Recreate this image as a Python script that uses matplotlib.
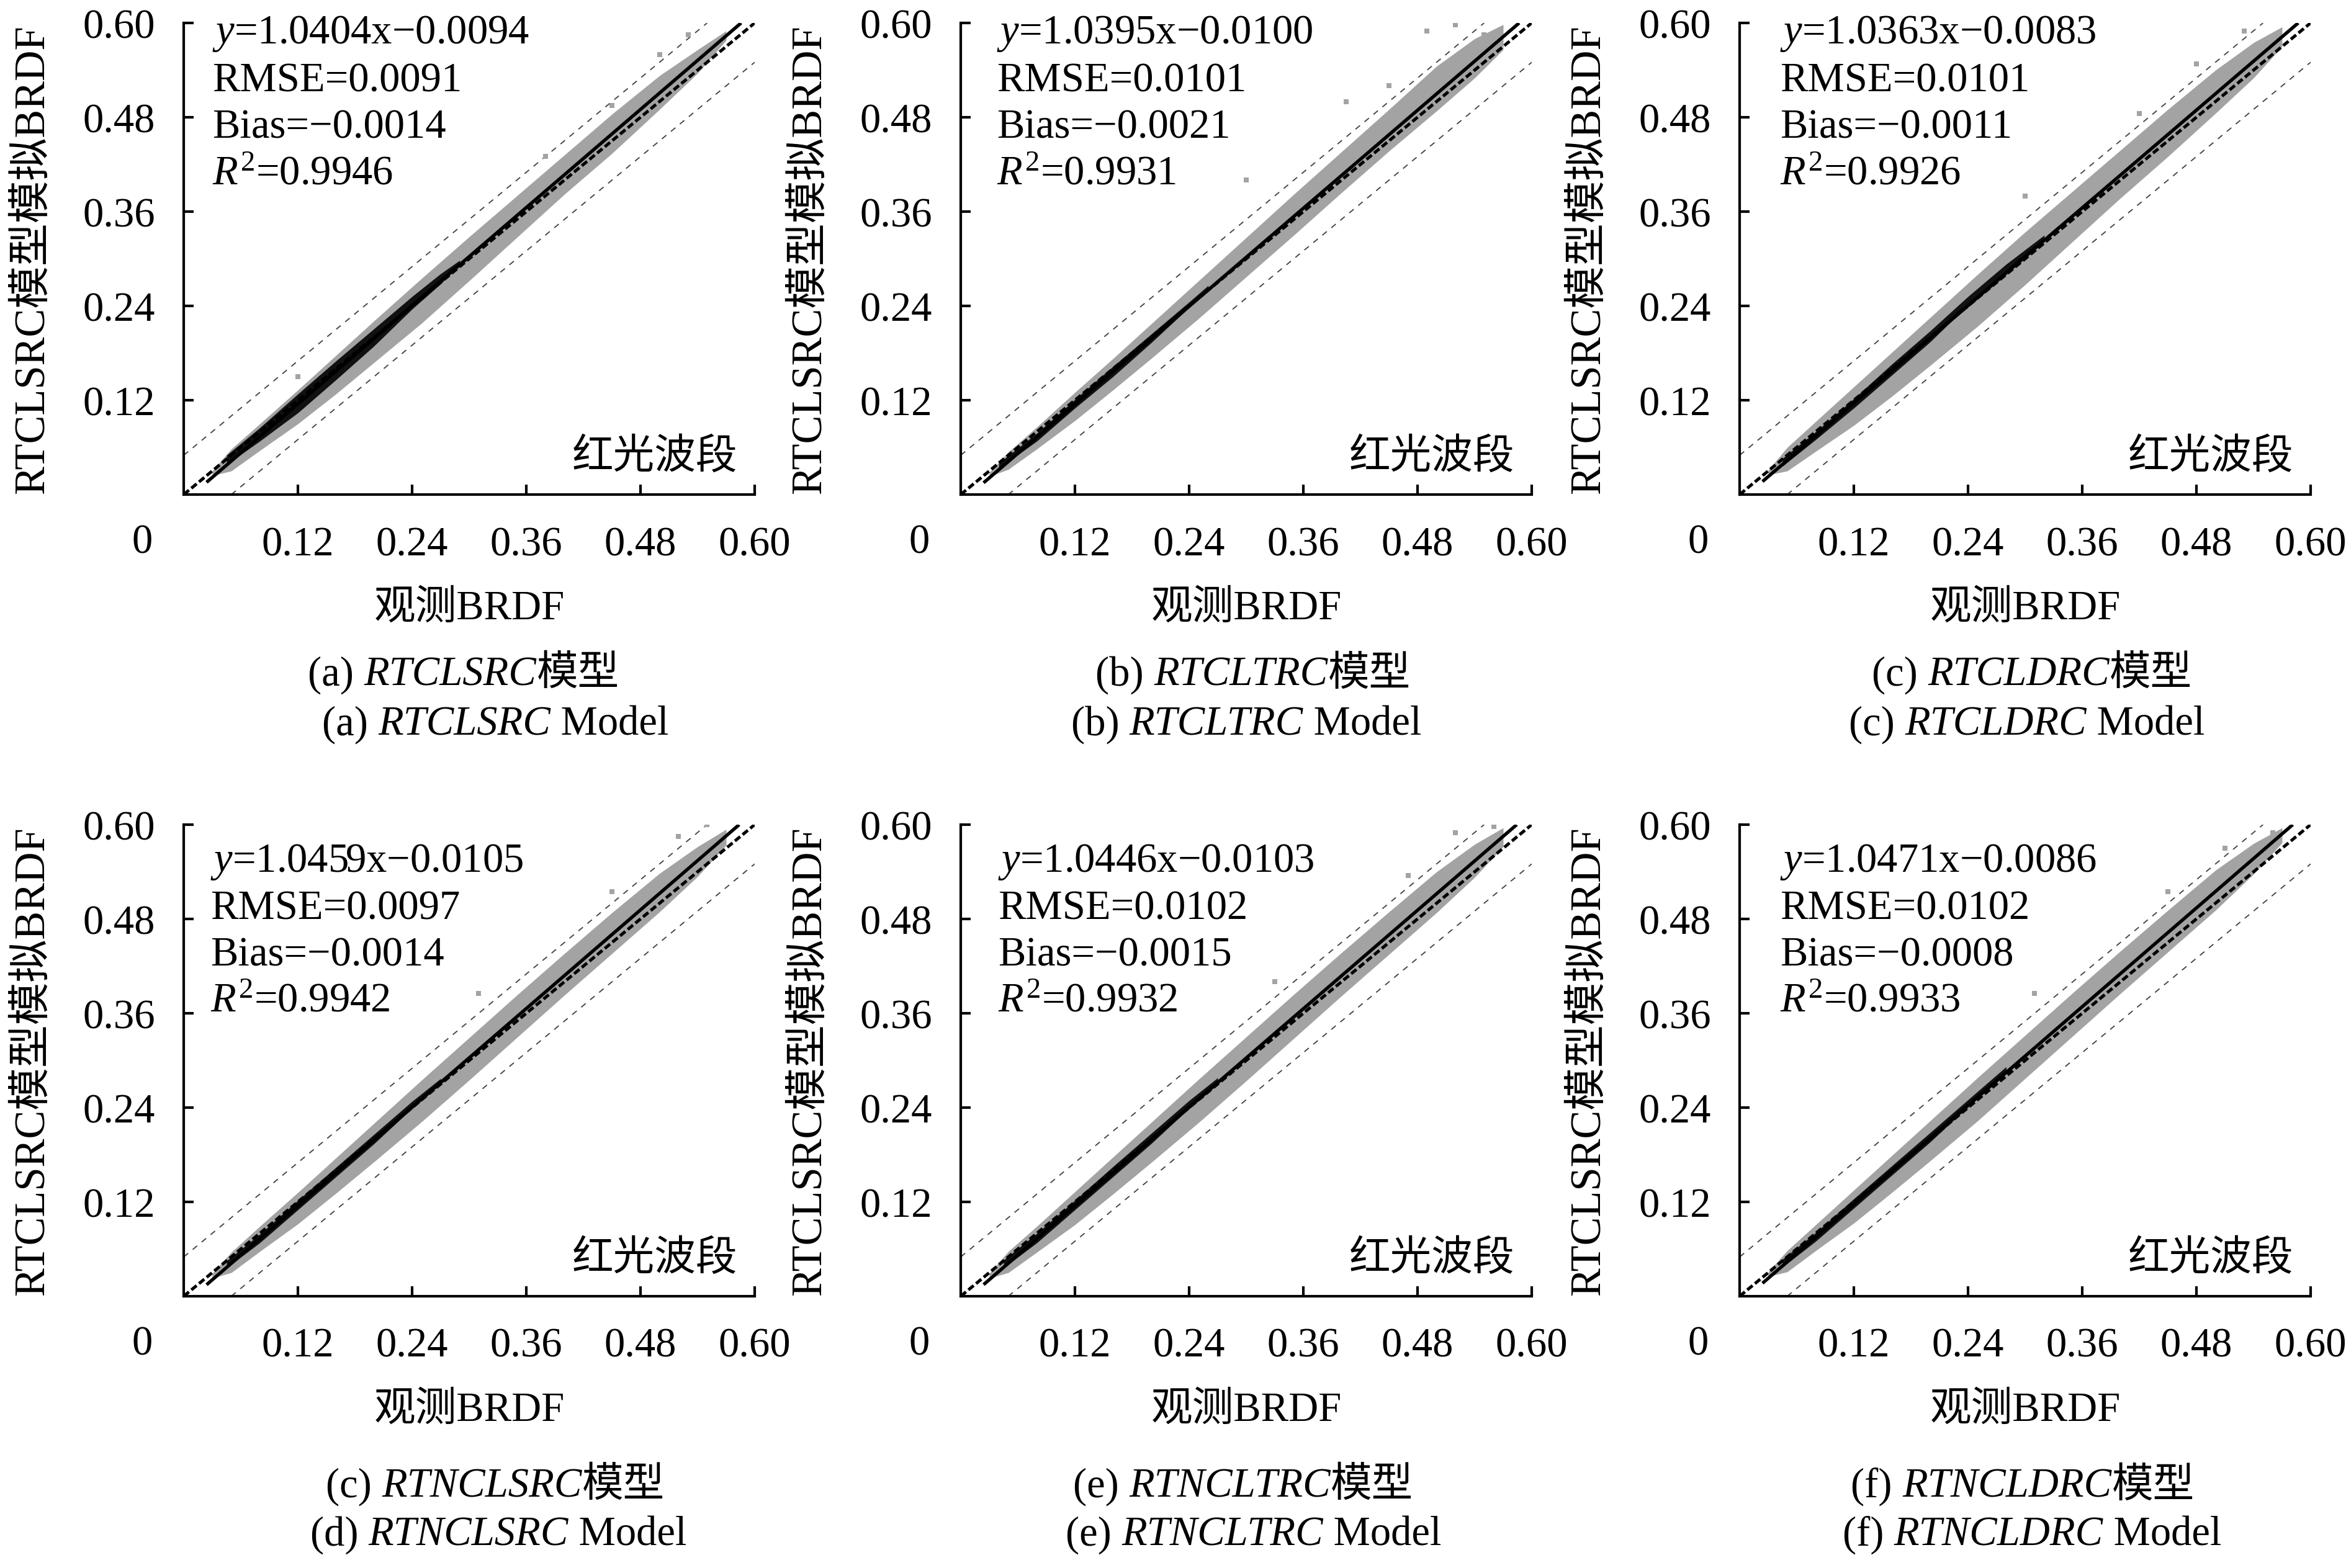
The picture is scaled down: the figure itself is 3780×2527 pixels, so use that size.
import matplotlib
matplotlib.use("Agg")
import matplotlib.pyplot as plt
from matplotlib.offsetbox import TextArea, HPacker, AnnotationBbox

FAMILY = ['Liberation Serif', 'Noto Sans CJK SC']
plt.rcParams['font.family'] = FAMILY
plt.rcParams['mathtext.fontset'] = 'custom'
plt.rcParams['mathtext.rm'] = 'Liberation Serif'
plt.rcParams['mathtext.it'] = 'Liberation Serif:italic'
FS = 16

# ---- values ----
slope = [1.0404, 1.0395, 1.0363, 1.0459, 1.0446, 1.0471]
icept = [-0.0094, -0.0100, -0.0083, -0.0105, -0.0103, -0.0086]
rmse = ["0.0091", "0.0101", "0.0101", "0.0097", "0.0102", "0.0102"]
bias = ["\u22120.0014", "\u22120.0021", "\u22120.0011", "\u22120.0014", "\u22120.0015", "\u22120.0008"]
r2 = ["0.9946", "0.9931", "0.9926", "0.9942", "0.9932", "0.9933"]

cap_tag1 = ["(a) ", "(b) ", "(c) ", "(c) ", "(e) ", "(f) "]
cap_tag2 = ["(a) ", "(b) ", "(c) ", "(d) ", "(e) ", "(f) "]
model_names = ["RTCLSRC", "RTCLTRC", "RTCLDRC", "RTNCLSRC", "RTNCLTRC", "RTNCLDRC"]

ticks = [0.12, 0.24, 0.36, 0.48, 0.60]
tick_labels = ["0.12", "0.24", "0.36", "0.48", "0.60"]

# envelope of the grey point cloud (observed x, simulated y)
cloud_x = [0.03, 0.05, 0.08, 0.12, 0.16, 0.20, 0.25, 0.30, 0.35, 0.40, 0.45, 0.50, 0.54, 0.57]
cloud_hi = [
    [0.030, 0.058, 0.090, 0.133, 0.177, 0.221, 0.275, 0.328, 0.380, 0.432, 0.484, 0.533, 0.566, 0.590],
    [0.028, 0.054, 0.086, 0.130, 0.173, 0.217, 0.272, 0.327, 0.382, 0.436, 0.490, 0.545, 0.580, 0.598],
    [0.031, 0.060, 0.093, 0.137, 0.181, 0.225, 0.280, 0.334, 0.386, 0.438, 0.490, 0.540, 0.575, 0.595],
    [0.029, 0.056, 0.089, 0.132, 0.176, 0.220, 0.275, 0.329, 0.383, 0.436, 0.488, 0.538, 0.572, 0.594],
    [0.029, 0.057, 0.089, 0.133, 0.177, 0.221, 0.276, 0.330, 0.384, 0.437, 0.489, 0.540, 0.575, 0.596],
    [0.031, 0.058, 0.091, 0.135, 0.179, 0.223, 0.278, 0.332, 0.386, 0.439, 0.491, 0.542, 0.576, 0.596],
]
cloud_lo = [
    [0.024, 0.030, 0.056, 0.090, 0.128, 0.168, 0.218, 0.272, 0.327, 0.382, 0.434, 0.490, 0.536, 0.578],
    [0.023, 0.032, 0.058, 0.094, 0.133, 0.173, 0.224, 0.277, 0.330, 0.384, 0.437, 0.488, 0.530, 0.566],
    [0.025, 0.030, 0.055, 0.088, 0.125, 0.164, 0.214, 0.267, 0.322, 0.377, 0.430, 0.485, 0.530, 0.570],
    [0.023, 0.030, 0.057, 0.092, 0.131, 0.171, 0.222, 0.275, 0.329, 0.383, 0.436, 0.489, 0.534, 0.574],
    [0.023, 0.030, 0.056, 0.091, 0.130, 0.170, 0.221, 0.274, 0.328, 0.382, 0.435, 0.488, 0.533, 0.572],
    [0.025, 0.031, 0.058, 0.093, 0.132, 0.172, 0.223, 0.277, 0.331, 0.385, 0.438, 0.491, 0.537, 0.577],
]

# dense black core of the cloud
core_x = [
    [0.045, 0.08, 0.12, 0.16, 0.20, 0.24, 0.27, 0.29],
    [0.04, 0.08, 0.12, 0.16, 0.20, 0.24, 0.26],
    [0.045, 0.08, 0.12, 0.16, 0.20, 0.24, 0.28, 0.32],
    [0.045, 0.08, 0.12, 0.16, 0.20, 0.24, 0.27],
    [0.045, 0.08, 0.12, 0.16, 0.20, 0.24, 0.27],
    [0.045, 0.08, 0.12, 0.16, 0.20, 0.24, 0.28],
]
core_hi = [
    [0.050, 0.085, 0.128, 0.170, 0.211, 0.252, 0.281, 0.298],
    [0.040, 0.078, 0.121, 0.163, 0.204, 0.245, 0.266],
    [0.046, 0.080, 0.122, 0.166, 0.208, 0.252, 0.293, 0.330],
    [0.045, 0.079, 0.122, 0.164, 0.206, 0.248, 0.277],
    [0.046, 0.080, 0.122, 0.165, 0.207, 0.249, 0.278],
    [0.047, 0.081, 0.124, 0.166, 0.208, 0.250, 0.292],
]
core_lo = [
    [0.038, 0.068, 0.104, 0.146, 0.189, 0.236, 0.268, 0.293],
    [0.033, 0.068, 0.110, 0.150, 0.193, 0.238, 0.262],
    [0.036, 0.070, 0.110, 0.152, 0.194, 0.241, 0.283, 0.326],
    [0.036, 0.068, 0.110, 0.152, 0.194, 0.239, 0.271],
    [0.036, 0.068, 0.110, 0.152, 0.194, 0.239, 0.272],
    [0.037, 0.070, 0.112, 0.154, 0.196, 0.241, 0.284],
]

# a few isolated points outside the cloud
out_x = [
    [0.50, 0.53, 0.45, 0.38, 0.12],
    [0.30, 0.405, 0.49, 0.52, 0.55, 0.45],
    [0.30, 0.48, 0.53, 0.42],
    [0.31, 0.45, 0.52, 0.55],
    [0.33, 0.47, 0.52, 0.56],
    [0.31, 0.45, 0.51, 0.56],
]
out_y = [
    [0.560, 0.585, 0.495, 0.430, 0.150],
    [0.400, 0.500, 0.590, 0.598, 0.585, 0.520],
    [0.380, 0.548, 0.590, 0.485],
    [0.385, 0.515, 0.585, 0.600],
    [0.400, 0.535, 0.590, 0.598],
    [0.385, 0.515, 0.570, 0.590],
]

band_offset = 0.05

# ---- layout (pixels of the 3780x2528 picture) ----
W, H = 3780, 2528
ax_left = [296, 1548, 2803]
ax_top = [38, 1330]
ax_w, ax_h = 920, 760
ann_dx = [46, 58, 65, 43, 60, 65]
ann_dy = [[16, 93, 168, 243], [60, 135, 210, 284]]
cap1_x = [747, 2019, 3274, 798, 2003, 3259]
cap2_x = [798, 2008, 3266, 803, 2020, 3274]
cap_y = [[1088, 1168], [2396, 2474]]

GREY = '#a3a3a3'

fig = plt.figure(figsize=(W / 300, H / 300), dpi=300)
axes = []

for i in range(6):
    row, col = divmod(i, 3)
    left = ax_left[col] / W
    bottom = 1 - (ax_top[row] + ax_h) / H
    ax = fig.add_axes([left, bottom, ax_w / W, ax_h / H])
    axes.append(ax)

    # +-0.05 envelope lines
    ax.plot([0, 0.6 - band_offset], [band_offset, 0.6], color='#444444', lw=0.45,
            ls=(0, (5, 5)), zorder=1)
    ax.plot([band_offset, 0.6], [0, 0.6 - band_offset], color='#444444', lw=0.45,
            ls=(0, (5, 5)), zorder=1)

    # point cloud
    ax.fill_between(cloud_x, cloud_lo[i], cloud_hi[i], color=GREY, lw=0, zorder=2)
    ax.scatter(out_x[i], out_y[i], s=3, marker='s', color=GREY, linewidths=0, zorder=2)
    ax.fill_between(core_x[i], core_lo[i], core_hi[i], color='#111111', lw=0, zorder=3)

    # 1:1 line and fitted line
    ax.plot([0, 0.6], [0, 0.6], color='black', lw=1.2, ls=(0, (2.2, 1.0)), zorder=4)
    x_end = (0.6 - icept[i]) / slope[i]
    ax.plot([0.024, x_end], [slope[i] * 0.024 + icept[i], 0.6], color='black',
            lw=1.3, zorder=5, solid_capstyle='butt')

    ax.set_xlim(0, 0.6)
    ax.set_ylim(0, 0.6)
    ax.set_xticks(ticks)
    ax.set_xticklabels(tick_labels)
    ax.set_yticks(ticks)
    ax.set_yticklabels(tick_labels)
    for s in ['top', 'right']:
        ax.spines[s].set_visible(False)
    for s in ['left', 'bottom']:
        ax.spines[s].set_linewidth(1.0)
    ax.tick_params(direction='in', length=3.8, width=1.0, labelsize=FS)
    ax.tick_params(axis='x', pad=12)
    ax.tick_params(axis='y', pad=11)

    ax.annotate("0", xy=(0, 0), xycoords='axes fraction', xytext=(-16, -18.5),
                textcoords='offset points', ha='center', va='center', fontsize=FS)

    ax.text(-243 / ax_w, 0.5, "RTCLSRC模型模拟BRDF", rotation=90, ha='center',
            va='center', transform=ax.transAxes, fontsize=FS + 0.5)
    ax.text(0.5, -183 / ax_h, "观测BRDF", ha='center', va='center',
            transform=ax.transAxes, fontsize=FS)
    ax.text(0.970, 0.079, "红光波段", ha='right', va='center',
            transform=ax.transAxes, fontsize=FS)

    lines = [
        "$y$=%.4fx\u2212%.4f" % (slope[i], -icept[i]),
        "RMSE=" + rmse[i],
        "Bias=" + bias[i],
        "$R^{2}$=" + r2[i],
    ]
    for k, txt in enumerate(lines):
        ax.text(ann_dx[i] / ax_w, 1 - ann_dy[row][k] / ax_h, txt, ha='left',
                va='center', transform=ax.transAxes, fontsize=FS)

# captions below each panel
for i in range(6):
    row, col = divmod(i, 3)
    rm = dict(fontsize=FS, family=FAMILY)
    it = dict(fontsize=FS, family=FAMILY, style='italic')
    box1 = HPacker(children=[TextArea(cap_tag1[i], textprops=rm),
                             TextArea(model_names[i], textprops=it),
                             TextArea("模型", textprops=rm)],
                   align='baseline', pad=0, sep=0)
    box2 = HPacker(children=[TextArea(cap_tag2[i], textprops=rm),
                             TextArea(model_names[i], textprops=it),
                             TextArea(" Model", textprops=rm)],
                   align='baseline', pad=0, sep=0)
    for box, cx, cy in [(box1, cap1_x[i], cap_y[row][0]), (box2, cap2_x[i], cap_y[row][1])]:
        ab = AnnotationBbox(box, (cx / W, 1 - cy / H), xycoords='figure fraction',
                            frameon=False, box_alignment=(0.5, 0.5), pad=0,
                            annotation_clip=False)
        axes[0].add_artist(ab)

fig.savefig("out.png", dpi=300)
